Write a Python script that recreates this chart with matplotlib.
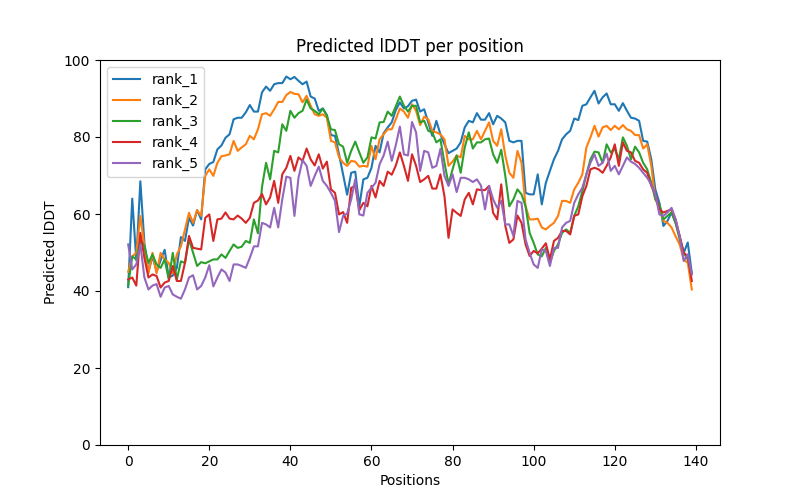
import matplotlib
matplotlib.use('Agg')
import matplotlib.pyplot as plt
import numpy as np

# per-residue pLDDT for each ranked model
rank_1 = [41, 64, 48, 68.5, 52.5, 45, 49, 45, 48, 50.7,
          43.5, 44, 46, 54, 53, 59, 57, 61, 58.6, 71.6,
          73, 73.5, 76.8, 77.8, 79.8, 80.7, 84.6, 85, 85, 86.4,
          88.3, 86.6, 86.6, 91.6, 93.1, 92, 93.7, 94, 94, 95.7,
          95, 95.6, 94.6, 93.7, 94.4, 90.5, 90, 86.8, 87.4, 85.7,
          80.5, 80.3, 75.5, 70.3, 65, 70.7, 71, 62, 69, 69.4,
          72, 77.7, 76, 81, 82.5, 83.8, 87, 89, 87.4, 88,
          89.4, 89.7, 86.6, 87.2, 83.8, 80.3, 84.2, 80.7, 78.1, 75.8,
          76.4, 77, 78.6, 82.5, 84.2, 83.8, 86.2, 84.5, 84.5, 86.2,
          83.3, 85.5, 84.8, 83.8, 79, 78.6, 79, 79, 65.5, 65.1,
          65.1, 70.3, 62.5, 68.1, 71.2, 74.2, 76.4, 79.4, 80.7, 81.6,
          84.8, 84.4, 88.1, 88.5, 90.3, 92, 88.7, 90.3, 91.3, 88.5,
          88.5, 86.8, 88.8, 86.8, 85, 84.8, 84.2, 79, 78.8, 74.2,
          66.4, 62.9, 56.9, 58.2, 60.4, 57.7, 54.2, 49.9, 52.6, 44.6]

rank_2 = [45, 49, 49.9, 59.5, 51.6, 44.6, 49.9, 44.6, 49.9, 48.2,
          47.3, 44.6, 49.5, 51.6, 56, 60.3, 57.7, 61, 59.5, 69.9,
          71.6, 69.9, 73.3, 75, 75.2, 75.5, 79, 76.4, 77.3, 78.1,
          80.3, 79.4, 82, 85.9, 86.2, 85.5, 87.2, 89.1, 89.1, 90.9,
          91.7, 91.2, 91.1, 89, 90.7, 88.1, 85.9, 85.5, 85.9, 85,
          79, 78.6, 74.7, 73.3, 72.5, 73.8, 73.6, 72.3, 72.5, 72.3,
          77.7, 74.2, 79.4, 80.7, 82, 82, 84.6, 87.4, 86.6, 85,
          88.5, 86.8, 83.1, 85.3, 84.6, 81.6, 81.2, 80.7, 79.4, 72.5,
          73.6, 75.2, 74.7, 80.3, 79.4, 79.4, 81.6, 79.4, 81.6, 83.8,
          79, 77.7, 82, 75.2, 70.7, 69.4, 76.4, 73.3, 62, 58.6,
          58.6, 58.8, 56.5, 56, 56.9, 57.7, 59.5, 63.4, 63.4, 62.9,
          66.4, 68.1, 70.3, 77.3, 79.9, 82.9, 80.1, 82.5, 82.9, 81.8,
          82.9, 82, 83.1, 82, 81.6, 80.5, 80.5, 77, 78.1, 72.5,
          63.8, 61.6, 58.2, 57.7, 56.5, 54.2, 52.1, 48.2, 47.3, 40.4]

rank_3 = [41.4, 49, 48.2, 53.4, 51.6, 47.3, 49.5, 46.9, 46, 48.2,
          43, 49.9, 43, 47.7, 47.3, 53.4, 49.9, 46.5, 47.5, 47.2,
          47.7, 48.2, 48.2, 49.5, 48.6, 50.4, 52.1, 51.2, 51.5, 53,
          52.5, 58.6, 55, 67, 73.3, 69, 76.4, 76, 83.3, 81.6,
          86.8, 85, 86.2, 86.8, 89.7, 87.4, 86.8, 85.9, 87.4, 85.5,
          82, 81.8, 78.1, 77.5, 73.3, 76.4, 78.8, 76, 73.3, 74.7,
          79.9, 79.6, 83.8, 83.9, 86.6, 85.5, 88, 90.5, 88.1, 86.6,
          88.1, 88.1, 83.8, 84.2, 81.6, 81.2, 78.6, 79.4, 73.3, 67.8,
          71.6, 75.2, 70.7, 77.3, 81.2, 77, 78.6, 78.6, 79.4, 79.6,
          75.5, 73.3, 76.7, 69.9, 62, 63.8, 66.4, 65.1, 62, 55.1,
          52.5, 49.5, 49, 51.2, 47.3, 50.4, 52.1, 55.1, 56, 55.1,
          59.5, 62, 65.9, 70.3, 74.2, 76.2, 76, 73.3, 78.1, 76,
          76.9, 74.2, 79.9, 77.7, 74.2, 77.5, 76, 73.3, 71.6, 68.1,
          63.8, 62.5, 58.6, 59.5, 60.4, 57.7, 53.4, 49.9, 48.2, 44.6]

rank_4 = [43, 43.5, 41.4, 55.1, 48.6, 43.5, 44.3, 43.9, 40.9, 42.2,
          42.6, 46.5, 42.6, 42.6, 47.3, 54.3, 51.2, 51, 50.8, 59,
          59.9, 53, 58.6, 58.8, 60.4, 58.8, 58.6, 59.6, 58.8, 57.7,
          59, 62.9, 63.5, 65.2, 62.5, 64.3, 68.6, 62.9, 70.3, 72,
          75.1, 71.2, 74.7, 73.8, 77, 74.2, 72.6, 75.5, 71.8, 73.6,
          66.4, 65.5, 59.9, 60.5, 57.7, 66.8, 67.3, 61, 62.9, 62,
          67.3, 64.3, 68.6, 67.3, 71, 70.2, 72.6, 76, 72.5, 68.6,
          75.5, 72.5, 68.3, 69, 69.9, 66.6, 66.6, 70.3, 64.6, 53.8,
          61.2, 60.3, 59.5, 63.8, 65.5, 62.5, 66.4, 66.2, 66.2, 67.3,
          60.3, 58.6, 67.7, 56.9, 52.5, 53.4, 59.6, 57.7, 52.1, 49.1,
          50.4, 49.8, 51, 52.4, 48.2, 53, 53.8, 55.6, 55.6, 54.7,
          59.5, 59.9, 64.6, 67.3, 71.6, 72, 71.6, 70.7, 72.5, 74.7,
          78.1, 72.5, 78.6, 76.4, 76, 73.8, 73.3, 71.6, 70.7, 67.3,
          65.2, 61.2, 60.4, 60.8, 61.2, 58.6, 54.2, 49.9, 49.1, 42.6]

rank_5 = [52.1, 45.6, 46.9, 52.1, 43.5, 40.4, 41.4, 41.8, 38.5, 40.9,
          41.3, 39.1, 38.5, 38, 40.4, 43.5, 44.1, 40.4, 41.3, 43.5,
          46.7, 41.2, 43.5, 45.6, 44.8, 42.6, 46.9, 46.9, 46.5, 46,
          48.6, 51.6, 51.6, 57.7, 57.3, 56.5, 61.6, 56.5, 63.8, 69.7,
          69.4, 59.5, 69.4, 74, 72.5, 67.3, 69.9, 72.3, 68.6, 67.3,
          65.5, 63.4, 55.3, 59.5, 60.1, 63.8, 69, 59.9, 59.6, 65.5,
          66.8, 68.1, 72.9, 75.2, 78.8, 73.8, 77.9, 82.7, 75.5, 75.2,
          83.9, 81.2, 71.2, 76.4, 76, 72, 72.5, 76.9, 69.9, 67.3,
          70.3, 65.7, 69.4, 69.4, 69, 68.3, 69, 67.4, 61.2, 67.3,
          63.8, 61.6, 63.4, 57.3, 57.3, 54.3, 63.4, 62.9, 53.4, 49.9,
          46.9, 46, 50.8, 50.4, 46.5, 51.2, 51.2, 56.5, 57.7, 58.2,
          62.9, 65.1, 66.8, 70.3, 73.3, 75.5, 72.5, 73.3, 75.7, 71.2,
          72.5, 70.3, 72.5, 74.7, 73.6, 73, 72, 70.7, 69.4, 67.7,
          65.1, 59.9, 59.5, 60.4, 61.6, 58.6, 54.2, 47.8, 49.5, 44.3]

series = [rank_1, rank_2, rank_3, rank_4, rank_5]
labels = ['rank_1', 'rank_2', 'rank_3', 'rank_4', 'rank_5']

fig, ax = plt.subplots(figsize=(8, 5), dpi=100)
for vals, name in zip(series, labels):
    ax.plot(np.arange(len(vals)), vals, label=name)

ax.set_ylim(0, 100)
ax.set_title('Predicted lDDT per position')
ax.set_xlabel('Positions')
ax.set_ylabel('Predicted lDDT')
ax.legend(loc='upper left')

plt.savefig('out.png')
